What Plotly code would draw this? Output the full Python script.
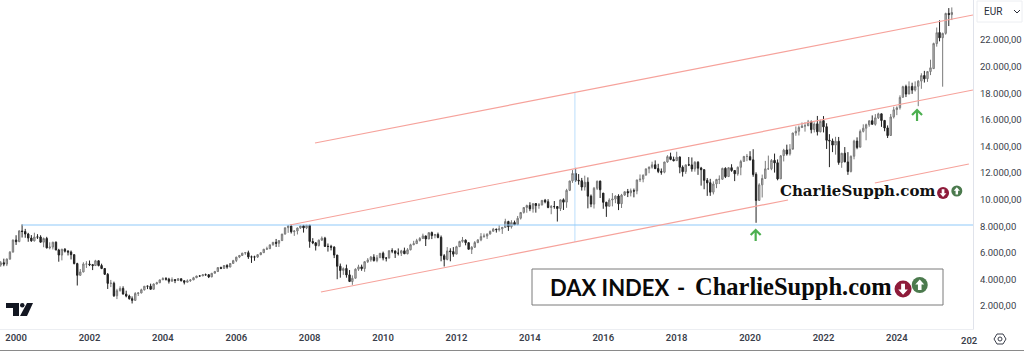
import pandas as pd
import plotly.graph_objects as go

MONTHS = pd.date_range("1999-07-01", "2025-07-01", freq="MS")

OPENS = [
 5300,5080,5250,5150,5520,6050,
 6960,6840,7640,7600,7410,7110,6900,7190,7190,6800,7080,6370,
 6430,6800,6210,5830,6260,6120,6060,5860,5190,4310,4560,5160,
 5160,5110,5040,5400,5040,4820,4380,3700,3710,2770,3150,3320,
 2890,2750,2550,2420,2940,2980,3220,3490,3490,3260,3660,3750,
 3970,4060,4020,3860,3990,3920,4050,3900,3790,3900,3960,4130,
 4260,4260,4350,4350,4190,4460,4590,4890,4830,5050,4930,5200,
 5420,5680,5800,5980,6010,5690,5690,5680,5860,6010,6270,6310,
 6610,6790,6720,6920,7410,7890,8010,7590,7640,7870,8030,7870,
 8070,6850,6750,6540,6950,7100,6480,6480,6430,5830,4990,4670,
 4820,4340,3840,4090,4770,4940,4810,5330,5470,5680,5420,5630,
 5970,5610,5600,6160,6140,5970,5970,6150,5930,6230,6600,6690,
 6920,7080,7270,7040,7520,7290,7380,7160,5780,5500,6140,6090,
 5900,6460,6860,6950,6760,6260,6420,6770,6970,7220,7260,7410,
 7620,7780,7740,7800,7910,8350,7960,8280,8110,8600,9040,9410,
 9560,9310,9700,9560,9600,9950,9840,9410,9480,9480,9330,9990,
 9810,10700,11410,11970,11460,11420,10950,11310,10260,9660,10850,11390,
 10490,9800,9500,9970,10040,10270,9690,10340,10600,10510,10670,10650,
 11490,11540,11840,12320,12440,12620,12330,12120,12060,12830,13230,13020,
 12930,13200,12440,12100,12620,12610,12310,12810,12370,12250,11450,11270,
 10560,11180,11520,11530,12350,11730,12400,12190,11940,12430,12870,13240,
 13230,12990,11900,9940,11110,11590,12310,12320,12950,12770,11560,13310,
 13730,13440,13790,15010,15140,15420,15540,15550,15840,15270,15700,15100,
 15940,15480,14460,14410,14100,14390,12790,13490,12830,12120,13260,14400,
 13940,15130,15370,15630,15930,15660,16150,16450,15950,15390,14820,16220,
 16770,16910,17690,18500,17940,18510,18240,18520,18910,19330,19090,19630,
 19850,21730,22560,22170,22500,24000,23910,
]
HIGHS = [
 5650,5380,5560,5580,6130,7000,
 7320,7700,8136,7800,7500,7330,7510,7400,7320,7150,7200,6790,
 6830,6850,6300,6300,6360,6200,6170,5880,5250,4780,5290,5370,
 5420,5160,5470,5430,5180,4850,4480,3960,3830,3290,3480,3480,
 3150,2850,2720,3040,3030,3300,3490,3530,3680,3690,3820,3970,
 4160,4170,4120,4150,3990,4090,4060,3860,4000,4020,4190,4270,
 4320,4400,4440,4400,4470,4640,4910,4960,5060,5140,5220,5470,
 5700,5840,6000,6060,6160,5790,5780,5880,6050,6290,6460,6610,
 6800,7040,6940,7420,7890,8090,8150,7700,7900,8040,8100,8100,
 8100,7100,6800,7000,7230,7200,6700,6600,6490,5840,5190,4900,
 5110,4700,4300,4830,5100,5110,5350,5600,5760,5890,5830,5990,
 6090,5670,6190,6340,6170,6330,6220,6390,6350,6680,6900,7050,
 7180,7440,7230,7530,7600,7420,7520,7300,5900,6430,6340,6430,
 6530,6900,7190,7010,6780,6500,6880,7020,7480,7450,7460,7670,
 7870,7810,8070,7940,8560,8410,8450,8420,8770,9050,9410,9620,
 9800,9710,9740,9740,9960,10050,10030,9590,9890,9500,10000,10090,
 10810,11400,12220,12390,11920,11630,11800,11670,10380,10950,11430,11430,
 10490,9830,10100,10490,10320,10400,10430,10400,10800,10830,10830,11480,
 11890,11890,12300,12490,12850,12950,12690,12340,12840,13340,13530,13230,
 13600,13250,12570,12620,13200,13170,12890,12890,12460,12280,11620,11560,
 11370,11560,11820,12400,12430,12420,12660,12060,12490,12990,13290,13430,
 13640,13790,12050,11230,11880,12910,13310,13050,13460,13020,13340,13820,
 14130,14170,15020,15500,15570,15800,15810,15990,15950,15810,16290,16010,
 16280,15740,14920,14590,14720,14710,13510,13950,13570,13320,14500,14680,
 15270,15660,15710,15960,16330,16430,16530,16060,15990,15580,16440,16980,
 17010,17840,18560,18640,18890,18790,18890,18980,19500,19680,19670,20520,
 21800,22940,23480,22550,24050,24400,24450,
]
LOWS = [
 5070,4950,4990,5000,5500,6040,
 6590,6800,7150,7130,6830,6830,6850,7040,6770,6420,6330,6260,
 6250,6200,5330,5430,6020,5800,5500,5130,3540,4270,4530,4860,
 5000,4700,5030,4980,4770,4330,3280,3420,2680,2520,3090,2870,
 2650,2480,2190,2420,2750,2950,3160,3270,3240,3240,3620,3720,
 3950,3910,3690,3850,3720,3900,3850,3620,3770,3810,3950,4090,
 4200,4260,4280,4100,4160,4460,4570,4770,4780,4800,4910,5170,
 5300,5600,5770,5850,5540,5240,5400,5610,5820,5980,6210,6280,
 6530,6440,6440,6880,7370,7500,7450,7270,7380,7790,7520,7780,
 6380,6650,6170,6480,6900,6460,6090,6180,5600,4014,4130,4340,
 4130,3800,3590,4060,4640,4650,4570,5230,5330,5340,5290,5620,
 5430,5350,5590,5970,5610,5800,5760,5920,5880,6180,6580,6700,
 6850,7050,6510,7030,7030,7090,7090,5360,4970,5430,5360,5700,
 5900,6460,6760,6560,6260,5910,6360,6720,6870,7130,7040,7380,
 7600,7520,7600,7420,7880,7650,7820,8100,8100,8500,8950,9010,
 9130,9020,9020,9310,9560,9720,9350,8900,9310,8350,9140,9220,
 9380,10640,11260,11320,11120,10680,10680,9340,9430,9330,10720,10120,
 9310,8700,9500,9490,9730,9210,9370,10280,10190,10240,10170,10400,
 11330,11300,11820,11980,12330,12300,11990,11870,11980,12770,12960,12880,
 12930,11980,11730,11930,12520,12100,12100,11860,11050,10780,10280,10280,
 10390,10860,11170,11500,11620,11720,12090,11390,11800,11830,12870,12890,
 12950,11720,8256,9900,10160,11630,12250,12210,12030,11450,11560,12870,
 13310,13310,13870,14800,14820,15380,15110,15600,14980,15050,14820,15060,
 15050,13810,12440,13570,13380,12620,12390,12810,11860,12040,13030,13790,
 13980,15050,14460,15480,15630,15560,16060,15470,15140,14630,14790,16100,
 16350,16770,17680,17710,17930,17950,18130,17024,18330,18800,18850,19360,
 19820,21500,21900,18490,22400,23050,23500,
]
CLOSES = [
 5098,5254,5149,5525,6045,6958,
 6835,7644,7599,7414,7109,6898,7191,7186,6798,7077,6372,6434,
 6795,6208,5830,6264,6123,6058,5861,5188,4308,4560,5160,5160,
 5107,5039,5397,5041,4818,4383,3700,3712,2769,3153,3320,2893,
 2748,2547,2424,2942,2982,3221,3487,3485,3257,3655,3745,3965,
 4058,4018,3856,3985,3921,4052,3895,3785,3893,3960,4126,4256,
 4254,4350,4349,4184,4460,4586,4887,4829,5044,4929,5193,5408,
 5674,5796,5970,6009,5692,5683,5681,5859,6004,6268,6309,6597,
 6789,6715,6917,7409,7883,8007,7584,7638,7861,8020,7870,8067,
 6851,6748,6535,6948,7096,6479,6479,6422,5831,4988,4669,4810,
 4338,3843,4085,4769,4941,4808,5332,5465,5675,5414,5625,5957,
 5608,5598,6153,6135,5964,5966,6148,5925,6229,6601,6688,6914,
 7077,7272,7041,7514,7293,7376,7158,5785,5502,6141,6088,5898,
 6458,6856,6947,6761,6264,6416,6772,6970,7216,7260,7405,7612,
 7776,7741,7795,7913,8348,7959,8275,8103,8594,9033,9405,9552,
 9306,9692,9555,9603,9943,9833,9407,9470,9474,9326,9980,9806,
 10694,11402,11966,11454,11413,10945,11308,10259,9660,10850,11382,10743,
 9798,9495,9966,10039,10262,9680,10337,10592,10511,10665,10640,11481,
 11535,11834,12312,12438,12615,12325,12118,12055,12829,13230,13023,12918,
 13189,12436,12097,12612,12604,12306,12806,12364,12247,11447,11257,10559,
 11173,11516,11526,12344,11727,12399,12189,11939,12428,12867,13236,13249,
 12982,11890,9936,11107,11587,12311,12313,12945,12761,11556,13291,13719,
 13432,13786,15008,15136,15421,15531,15544,15835,15261,15689,15100,15885,
 15471,14461,14415,14098,14388,12784,13484,12835,12114,13254,14397,13924,
 15128,15365,15629,15922,15664,16148,16447,15947,15387,14810,16215,16752,
 16903,17678,18492,17932,18498,18235,18509,18907,19324,19078,19626,19909,
 21732,22551,22163,22497,23997,23910,24065,
]

Y_TICKS = [2000,4000,6000,8000,10000,12000,14000,16000,18000,20000,22000]
X_TICKS = ["2000","2002","2004","2006","2008","2010","2012","2014","2016","2018","2020","2022","2024"]

X_RANGE = ["1999-07-25", "2026-01-28"]
Y_RANGE = [270, 25008]

CHANNEL_UPPER_X = ["2008-02-23", "2026-01-28"]
CHANNEL_UPPER_Y = [14256, 23880]
CHANNEL_MID_X = ["2007-06-18", "2026-01-28"]
CHANNEL_MID_Y = [8090, 18240]
CHANNEL_LOW_A_X = ["2008-04-22", "2021-01-13"]
CHANNEL_LOW_A_Y = [3053, 9970]
CHANNEL_LOW_B_X = ["2023-05-27", "2025-12-18"]
CHANNEL_LOW_B_Y = [11248, 12677]
LEVEL_X = ["2000-03-01", "2026-01-28"]
LEVEL_Y = [8090, 8090]
RANGE_X = ["2015-03-25", "2015-03-25"]
RANGE_Y = [6812, 18090]
ARROW_X = ["2020-02-26", "2024-07-20"]
ARROW_Y = [7714, 16737]

RED = "#f6a29b"
BLUE = "#90caf9"
PALE = "#bbdefb"
INK = "#131722"
FONT = "Roboto, sans-serif"

fig = go.Figure()


def line(x, y, color, width=1.2):
    fig.add_trace(go.Scatter(x=x, y=y, mode="lines", line=dict(color=color, width=width), hoverinfo="skip"))


line(RANGE_X, RANGE_Y, PALE, 1)
line(LEVEL_X, LEVEL_Y, BLUE, 1.2)
line(CHANNEL_UPPER_X, CHANNEL_UPPER_Y, RED)
line(CHANNEL_MID_X, CHANNEL_MID_Y, RED)
line(CHANNEL_LOW_A_X, CHANNEL_LOW_A_Y, RED)
line(CHANNEL_LOW_B_X, CHANNEL_LOW_B_Y, RED)

fig.add_trace(go.Candlestick(
    x=MONTHS, open=OPENS, high=HIGHS, low=LOWS, close=CLOSES,
    increasing=dict(line=dict(color="#7a7a7a", width=1), fillcolor="#c4c4c4"),
    decreasing=dict(line=dict(color="#222222", width=1), fillcolor="#222222"),
    hoverinfo="skip",
))

shapes = []


def pixel_path(x, y, path, **kw):
    shapes.append(dict(type="path", xref="x", yref="y", xsizemode="pixel", ysizemode="pixel",
                       xanchor=x, yanchor=y, path=path, **kw))


def icon(x, y, size, fill, up):
    fig.add_trace(go.Scatter(x=[x], y=[y], mode="markers", hoverinfo="skip",
                             marker=dict(size=size, color=fill, symbol="circle", line=dict(width=0))))
    s = size / 16.0
    sgn = 1 if up else -1
    pts = [(0, 5.5), (4.5, 0.5), (1.8, 0.5), (1.8, -5), (-1.8, -5), (-1.8, 0.5), (-4.5, 0.5)]
    d = "M " + " L ".join(f"{a*s:.2f} {b*s*sgn:.2f}" for a, b in pts) + " Z"
    pixel_path(x, y, d, fillcolor="white", line=dict(width=0))


MAROON = "#8e1b3a"
GREEN = "#4b7a4d"
icon("2024-03-03", 3278, 17, MAROON, False)
icon("2024-08-16", 3579, 16, GREEN, True)
icon("2025-04-05", 10500, 12, MAROON, False)
icon("2025-08-20", 10647, 11, GREEN, True)

for ax_date, ay_val in zip(ARROW_X, ARROW_Y):
    pixel_path(ax_date, ay_val, "M 0 0 L 0 -11 M -5 -5 L 0 0 L 5 -5", line=dict(color="#4caf50", width=2.2))

annotations = []
PW, PH = 973.0, 329.0


def px(x):
    return x / PW


def py(y):
    return 1 - y / PH


def note(x, y, text, size=12, color=INK, family=FONT, xanchor="center", yanchor="middle", weight=None):
    f = dict(size=size, color=color, family=family)
    if weight:
        f["weight"] = weight
    annotations.append(dict(x=px(x), y=py(y), xref="paper", yref="paper", text=text, showarrow=False,
                            xanchor=xanchor, yanchor=yanchor, font=f, borderpad=0))


note(549, 287, "<b>DAX INDEX</b>", size=22, color="#0a0a0a", family="Lato, sans-serif", xanchor="left")
note(676, 287, "<b>-</b>", size=22, color="#0a0a0a", family="Lato, sans-serif", xanchor="left")
note(694, 286, "<b>CharlieSupph.com</b>", size=24.5, color="#0a0a0a", family="Liberation Serif, serif", xanchor="left")
note(779, 191, "<b>CharlieSupph.com</b>", size=15, color="#111111", family="DejaVu Serif, serif", xanchor="left")
note(960, 340, "202", size=9.5, color="#3a3e4a", xanchor="left", weight=600)
note(983, 11, "EUR", size=10, color="#2a2e39", xanchor="left")

shapes += [
    dict(type="rect", xref="paper", yref="paper", x0=px(532), x1=px(943), y0=py(269), y1=py(305),
         line=dict(color="#7a7a7a", width=1), fillcolor="rgba(255,255,255,0)"),
    dict(type="line", xref="paper", yref="paper", x0=0, x1=px(1024), y0=py(350.5), y1=py(350.5),
         line=dict(color="#8a8a8a", width=1)),
    dict(type="rect", xref="paper", yref="paper", x0=px(977), x1=px(1022), y0=py(1), y1=py(22),
         line=dict(color="#eceef2", width=1), fillcolor="white", layer="below"),
    dict(type="path", xref="paper", yref="paper",
         path=f"M {px(1014)} {py(10)} L {px(1017)} {py(13)} L {px(1020)} {py(10)}",
         line=dict(color="#2a2e39", width=1)),
    # TradingView logo
    dict(type="path", xref="paper", yref="paper",
         path=f"M {px(6)} {py(303)} L {px(19)} {py(303)} L {px(19)} {py(316)} L {px(13)} {py(316)} "
              f"L {px(13)} {py(308)} L {px(6)} {py(308)} Z",
         fillcolor="#131722", line=dict(width=0)),
    dict(type="circle", xref="paper", yref="paper", x0=px(20), x1=px(24.5), y0=py(303), y1=py(307.5),
         fillcolor="#131722", line=dict(width=0)),
    dict(type="path", xref="paper", yref="paper",
         path=f"M {px(27)} {py(303)} L {px(33)} {py(303)} L {px(27)} {py(316)} L {px(20)} {py(316)} Z",
         fillcolor="#131722", line=dict(width=0)),
    # settings hexagon
    dict(type="path", xref="paper", yref="paper",
         path=f"M {px(994)} {py(339)} L {px(997)} {py(334)} L {px(1003)} {py(334)} L {px(1006)} {py(339)} "
              f"L {px(1003)} {py(344)} L {px(997)} {py(344)} Z",
         line=dict(color="#3a3e4a", width=1)),
    dict(type="circle", xref="paper", yref="paper", x0=px(998), x1=px(1002), y0=py(337), y1=py(341),
         line=dict(color="#3a3e4a", width=1)),
]

fig.update_layout(
    width=1024, height=352, autosize=False,
    margin=dict(l=0, r=51, t=0, b=23, pad=0),
    paper_bgcolor="white", plot_bgcolor="white",
    showlegend=False, separators=",.",
    annotations=annotations, shapes=shapes,
    xaxis=dict(type="date", range=X_RANGE, rangeslider=dict(visible=False), showgrid=False, zeroline=False,
               automargin=False, tickmode="array", tickvals=[f"{t}-01-01" for t in X_TICKS], ticktext=X_TICKS,
               ticks="", tickangle=0, tickfont=dict(size=9.5, color="#3a3e4a", family=FONT, weight=600),
               showline=True, linecolor="#eceef2", linewidth=1),
    yaxis=dict(side="right", range=Y_RANGE, showgrid=False, zeroline=False, tickvals=Y_TICKS, automargin=False,
               tickformat=",.2f", ticks="", ticklabelstandoff=4,
               tickfont=dict(size=9.5, color="#3a3e4a", family=FONT),
               showline=True, linecolor="#e0e3eb", linewidth=1),
)

fig.write_html("out.html", config=dict(displayModeBar=False),
               post_script="document.body.style.margin='0';document.body.style.overflow='hidden';")
